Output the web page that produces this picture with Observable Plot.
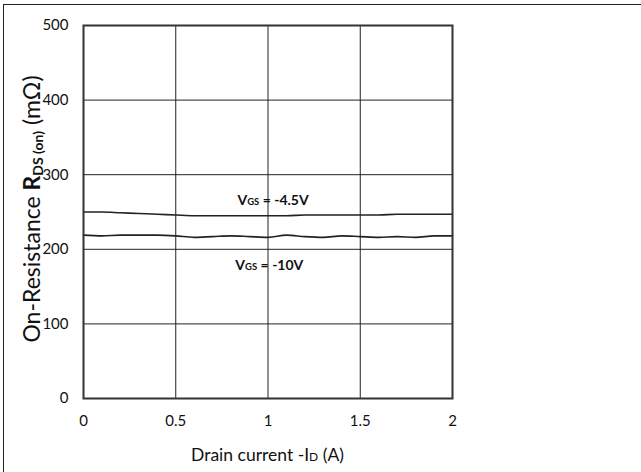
<!DOCTYPE html>
<html>
<head>
<meta charset="utf-8">
<script src="https://cdn.jsdelivr.net/npm/d3@7"></script>
<script src="https://cdn.jsdelivr.net/npm/@observablehq/plot@0.6"></script>
<style>
  html, body { margin: 0; padding: 0; background: #fff; }
  #wrap { position: relative; width: 641px; height: 472px; overflow: hidden; }
  #border { position: absolute; left: 3px; top: 4px; width: 700px; height: 600px;
            border-top: 1.5px solid #222; border-left: 1.5px solid #222; pointer-events: none; }
  svg { font-family: Lato, "Open Sans", sans-serif; }
  svg g[aria-label$="tick label"] text { font-size: 15px !important; }
</style>
</head>
<body>
<div id="wrap"><div id="border"></div></div>
<script>
// Data
const current = [0, 0.1, 0.2, 0.3, 0.4, 0.5, 0.6, 0.7, 0.8, 0.9, 1.0, 1.1, 1.2, 1.3, 1.4, 1.5, 1.6, 1.7, 1.8, 1.9, 2.0];
const rds45 = [250, 250, 249, 248, 247, 246, 245, 245, 245, 245, 245, 245, 246, 246, 246, 246, 246, 247, 247, 247, 247];
const rds10 = [219, 218, 219, 219, 219, 218, 216, 217, 218, 217, 216, 219, 217, 216, 218, 217, 216, 217, 216, 218, 218];
const seriesNames = ["-4.5V", "-10V"];
const labelX = [1.03, 1.01];
const labelY = [259, 172];
const xTicks = [0, 0.5, 1, 1.5, 2];
const yTicks = [0, 100, 200, 300, 400, 500];

const rows = [];
current.forEach((c, i) => {
  rows.push({x: c, y: rds45[i], s: seriesNames[0]});
  rows.push({x: c, y: rds10[i], s: seriesNames[1]});
});

const plot = Plot.plot({
  width: 641,
  height: 472,
  marginLeft: 83,
  marginRight: 189,
  marginTop: 25,
  marginBottom: 74,
  style: {fontFamily: "Lato, 'Open Sans', sans-serif", fontSize: "15px", color: "#111", background: "transparent"},
  x: {domain: [0, 2], label: null},
  y: {domain: [0, 500], label: null},
  marks: [
    Plot.gridX(xTicks, {stroke: "#222", strokeOpacity: 1, strokeWidth: 1}),
    Plot.gridY(yTicks, {stroke: "#222", strokeOpacity: 1, strokeWidth: 1}),
    Plot.line(rows, {x: "x", y: "y", z: "s", stroke: "#222", strokeWidth: 1.6, curve: "monotone-x"}),
    Plot.frame({stroke: "#333", strokeWidth: 2}),
    Plot.axisX(xTicks, {tickSize: 0, tickPadding: 17, fontSize: 15, tickFormat: d => String(d)}),
    Plot.axisY(yTicks, {tickSize: 0, tickPadding: 15, fontSize: 15})
  ]
});

document.getElementById("wrap").insertBefore(plot, document.getElementById("border"));

const svg = d3.select(plot);
svg.selectAll("text").attr("font-size", 15).style("font-size", "15px").attr("fill", "#111");
const xs = plot.scale("x"), ys = plot.scale("y");

// Series labels: V_GS = ...
seriesNames.forEach((name, i) => {
  const t = svg.append("text")
    .attr("x", xs.apply(labelX[i]))
    .attr("y", ys.apply(labelY[i]))
    .attr("text-anchor", "middle")
    .attr("font-weight", "bold")
    .style("font-size", "14px")
    .attr("fill", "#111");
  t.append("tspan").text("V");
  t.append("tspan").style("font-size", "9.5px").text("GS");
  t.append("tspan").text(" = " + name);
});

// X axis title
const xt = svg.append("text")
  .attr("x", (xs.range[0] + xs.range[1]) / 2)
  .attr("y", 461)
  .attr("text-anchor", "middle")
  .style("font-size", "17.5px")
  .attr("fill", "#111");
xt.append("tspan").text("Drain current -I");
xt.append("tspan").style("font-size", "12px").text("D");
xt.append("tspan").text(" (A)");

// Y axis title
const cy = 209;
const yt = svg.append("text")
  .attr("transform", `translate(40,${cy}) rotate(-90)`)
  .attr("text-anchor", "middle")
  .style("font-size", "23px")
  .attr("fill", "#111");
yt.append("tspan").text("On-Resistance ");
yt.append("tspan").attr("font-weight", "bold").text("R");
yt.append("tspan").attr("font-weight", "bold").style("font-size", "14px").attr("dy", 3).text("DS (on)");
yt.append("tspan").attr("dy", -3).text(" (mΩ)");
</script>
</body>
</html>
